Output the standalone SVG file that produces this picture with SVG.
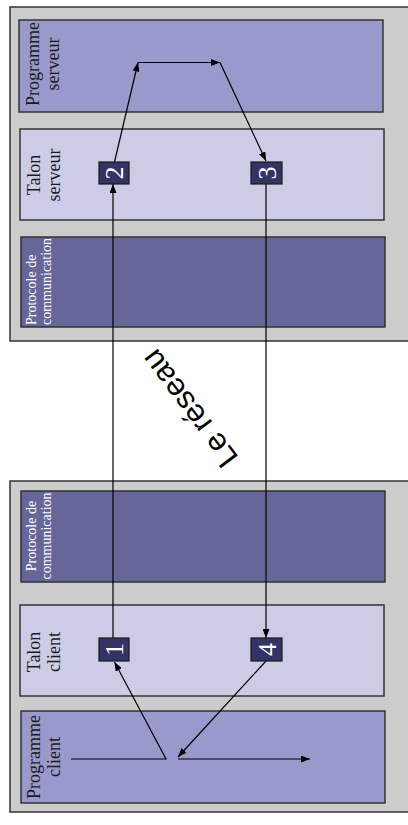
<svg xmlns="http://www.w3.org/2000/svg" width="408" height="825" viewBox="0 0 408 825">
<style>
.panel{fill:#cccccc;stroke:#333333;stroke-width:1.5}
.prog{fill:#9999cc;stroke:#333333;stroke-width:1.5}
.talon{fill:#cccce6;stroke:#333333;stroke-width:1.5}
.proto{fill:#666699;stroke:#333333;stroke-width:1.5}
.box{fill:#333366;stroke:#1a1a1a;stroke-width:1.2}
.lbl{font-family:"Liberation Serif","Times New Roman",serif;font-size:18px;fill:#1a1a1a;text-anchor:middle}
.plbl{font-family:"Liberation Serif","Times New Roman",serif;font-size:14px;fill:#ffffff}
.num{font-family:"Liberation Serif","Times New Roman",serif;font-size:26px;fill:#ffffff;text-anchor:middle}
.net{font-family:"Liberation Sans",Arial,sans-serif;font-size:31px;fill:#000000;text-anchor:middle}
.ln{fill:none;stroke:#000000;stroke-width:1.2}
</style>
<defs>
<marker id="ah" markerUnits="userSpaceOnUse" markerWidth="9" markerHeight="7" refX="9" refY="3.5" orient="auto">
<path d="M0,0 L9,3.5 L0,7 z" fill="#000000"/>
</marker>
</defs>
<rect width="408" height="825" fill="#ffffff"/>
<g id="panel-serveur">
<rect class="panel" x="10" y="7" width="410" height="334"/>
</g>
<g id="panel-client">
<rect class="panel" x="10" y="481" width="410" height="331"/>
</g>
<g id="programme-serveur">
<rect class="prog" x="19" y="20" width="364" height="92"/>
<text class="lbl" transform="translate(38.5,64) rotate(-90)">Programme</text>
<text class="lbl" transform="translate(58.5,64) rotate(-90)">serveur</text>
</g>
<g id="talon-serveur">
<rect class="talon" x="20" y="129" width="364" height="91"/>
<text class="lbl" transform="translate(39.5,175) rotate(-90)">Talon</text>
<text class="lbl" transform="translate(59.5,175) rotate(-90)">serveur</text>
</g>
<g id="protocole-serveur">
<rect class="proto" x="21" y="237" width="364" height="90"/>
<text class="plbl" transform="translate(36,325) rotate(-90)">Protocole de</text>
<text class="plbl" transform="translate(51,325) rotate(-90)">communication</text>
</g>
<g id="protocole-client">
<rect class="proto" x="21" y="491" width="364" height="91"/>
<text class="plbl" text-anchor="middle" transform="translate(36,536) rotate(-90)">Protocole de</text>
<text class="plbl" text-anchor="middle" transform="translate(51,536) rotate(-90)">communication</text>
</g>
<g id="talon-client">
<rect class="talon" x="20" y="605" width="364" height="91"/>
<text class="lbl" transform="translate(39.5,652) rotate(-90)">Talon</text>
<text class="lbl" transform="translate(59.5,652) rotate(-90)">client</text>
</g>
<g id="programme-client">
<rect class="prog" x="21" y="711" width="364" height="92"/>
<text class="lbl" transform="translate(39.5,757) rotate(-90)">Programme</text>
<text class="lbl" transform="translate(59.5,757) rotate(-90)">client</text>
</g>
<g id="connectors">
<line class="ln" x1="113" y1="638" x2="113" y2="184" marker-end="url(#ah)"/>
<line class="ln" x1="114.5" y1="162" x2="138" y2="62.5" marker-end="url(#ah)"/>
<line class="ln" x1="138" y1="62.5" x2="220" y2="62.5" marker-end="url(#ah)"/>
<line class="ln" x1="220" y1="62.5" x2="266" y2="161" marker-end="url(#ah)"/>
<line class="ln" x1="266" y1="184" x2="266" y2="638" marker-end="url(#ah)"/>
<polyline class="ln" points="71,759 166,759 114.5,662" marker-end="url(#ah)"/>
<line class="ln" x1="266" y1="661" x2="178" y2="757" marker-end="url(#ah)"/>
<line class="ln" x1="178" y1="759" x2="310" y2="759" marker-end="url(#ah)"/>
</g>
<g id="box-1">
<rect class="box" x="99" y="638" width="30" height="23"/>
<text class="num" transform="translate(114,649.5) rotate(-90)" y="9">1</text>
</g>
<g id="box-2">
<rect class="box" x="99" y="162" width="30" height="22"/>
<text class="num" transform="translate(114,173) rotate(-90)" y="9">2</text>
</g>
<g id="box-3">
<rect class="box" x="251" y="162" width="31" height="22"/>
<text class="num" transform="translate(266.5,173) rotate(-90)" y="9">3</text>
</g>
<g id="box-4">
<rect class="box" x="251" y="638" width="31" height="23"/>
<text class="num" transform="translate(266.5,649.5) rotate(-90)" y="9">4</text>
</g>
<g id="reseau">
<text class="net" transform="translate(189,409) rotate(233)" y="11">Le réseau</text>
</g>
</svg>
